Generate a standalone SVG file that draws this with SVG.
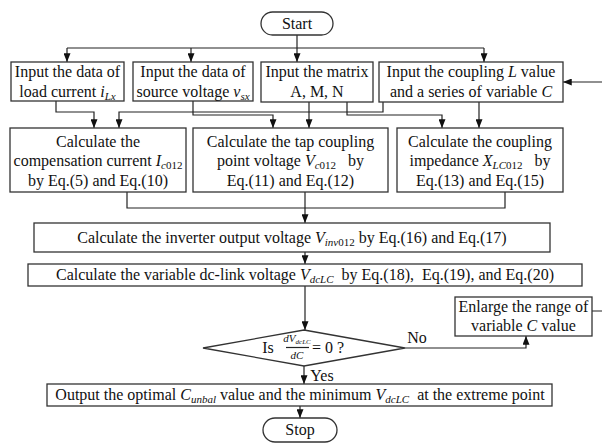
<svg xmlns="http://www.w3.org/2000/svg" width="602" height="445" viewBox="0 0 602 445">
<defs>
<marker id="ah" viewBox="0 0 10 8" refX="10" refY="4" markerWidth="9" markerHeight="7" markerUnits="userSpaceOnUse" orient="auto">
<path d="M0,0 L10,4 L0,8 z" fill="#111"/>
</marker>
</defs>
<style>
.box{fill:#fff;stroke:#333;stroke-width:1.3}
.t{font-family:"Liberation Serif","Times New Roman",serif;font-size:16px;fill:#111;text-anchor:middle}
.i{font-style:italic}
.s{font-size:11px}
.c{fill:none;stroke:#222;stroke-width:1.2}
.a{marker-end:url(#ah)}
</style>
<rect width="602" height="445" fill="#fff"/>
<g id="connectors">
<path class="c a" d="M297,35 V62"/>
<path class="c" d="M67,48 H484"/>
<path class="c a" d="M67,48 V62"/>
<path class="c a" d="M191,48 V62"/>
<path class="c a" d="M484,48 V62"/>
<path class="c a" d="M592,311 H612 V82 H563"/>
<path class="c a" d="M56,101 V112 H94 V128"/>
<path class="c a" d="M383,102 V112 H119 V128"/>
<path class="c a" d="M193,101 V115 H273 V128"/>
<path class="c a" d="M309,102 V128"/>
<path class="c a" d="M347,102 V115 H442 V128"/>
<path class="c a" d="M479,102 V128"/>
<path class="c" d="M127,192 V208 H505 V192"/>
<path class="c a" d="M305,192 V223"/>
<path class="c a" d="M305,252 V264"/>
<path class="c a" d="M305,286 V330"/>
<path class="c a" d="M405,348 H526 V336"/>
<path class="c a" d="M304,366 V384"/>
<path class="c a" d="M300,406 V418"/>
</g>
<g id="start"><rect class="box" x="261" y="12" width="72" height="23" rx="11.5"/><text class="t" x="297" y="29">Start</text></g>
<g id="in-load"><rect class="box" x="11" y="62" width="113" height="39"/><text class="t" x="67.5" y="77">Input the data of</text><text class="t" x="67.5" y="96.5">load current <tspan class="i">i</tspan><tspan class="i s" dy="3">Lx</tspan></text></g>
<g id="in-source"><rect class="box" x="133" y="62" width="120" height="39"/><text class="t" x="193" y="77">Input the data of</text><text class="t" x="193" y="96.5">source voltage <tspan class="i">v</tspan><tspan class="i s" dy="3">sx</tspan></text></g>
<g id="in-matrix"><rect class="box" x="261" y="62" width="112" height="40"/><text class="t" x="317" y="77">Input the matrix</text><text class="t" x="317" y="96.5">A, M, N</text></g>
<g id="in-coupling"><rect class="box" x="379" y="62" width="184" height="40"/><text class="t" x="471" y="77">Input the coupling <tspan class="i">L</tspan> value</text><text class="t" x="471" y="96.5">and a series of variable <tspan class="i">C</tspan></text></g>
<g id="calc-comp"><rect class="box" x="10" y="128" width="176" height="64"/><text class="t" x="98" y="146.5">Calculate the</text><text class="t" x="98" y="166">compensation current <tspan class="i">I</tspan><tspan class="s" dy="3"><tspan class="i">c</tspan>012</tspan></text><text class="t" x="98" y="185.5">by Eq.(5) and Eq.(10)</text></g>
<g id="calc-tap"><rect class="box" x="193" y="128" width="195" height="64"/><text class="t" x="290.5" y="146.5">Calculate the tap coupling</text><text class="t" x="290.5" y="166" xml:space="preserve">point voltage <tspan class="i">V</tspan><tspan class="s" dy="3"><tspan class="i">c</tspan>012</tspan><tspan dy="-3">   by</tspan></text><text class="t" x="290.5" y="185.5">Eq.(11) and Eq.(12)</text></g>
<g id="calc-imp"><rect class="box" x="397" y="128" width="166" height="64"/><text class="t" x="480" y="146.5">Calculate the coupling</text><text class="t" x="480" y="166" xml:space="preserve">impedance <tspan class="i">X</tspan><tspan class="s" dy="3"><tspan class="i">LC</tspan>012</tspan><tspan dy="-3">   by</tspan></text><text class="t" x="480" y="185.5">Eq.(13) and Eq.(15)</text></g>
<g id="calc-inv"><rect class="box" x="34" y="223" width="516" height="29"/><text class="t" x="292" y="243">Calculate the inverter output voltage <tspan class="i">V</tspan><tspan class="i s" dy="3">inv</tspan><tspan class="s">012</tspan><tspan dy="-3"> by Eq.(16) and Eq.(17)</tspan></text></g>
<g id="calc-dc"><rect class="box" x="28" y="264" width="554" height="22"/><text class="t" x="305" y="280" xml:space="preserve">Calculate the variable dc-link voltage <tspan class="i">V</tspan><tspan class="i s" dy="3">dcLC</tspan><tspan dy="-3">  by Eq.(18),  Eq.(19), and Eq.(20)</tspan></text></g>
<g id="enlarge"><rect class="box" x="455" y="297" width="137" height="39"/><text class="t" x="523.5" y="312">Enlarge the range of</text><text class="t" x="523.5" y="331">variable <tspan class="i">C</tspan> value</text></g>
<g id="decision"><path class="box" d="M304,330 L405,348 L304,366 L203,348 Z"/>
<text class="t" x="268" y="353">Is</text>
<text class="t i s" x="297" y="342">dV<tspan font-size="7" dy="2">dcLC</tspan></text>
<path class="c" d="M286,347.5 H309"/>
<text class="t i s" x="297" y="359">dC</text>
<text class="t" x="328" y="353">= 0 ?</text>
<text class="t" x="417" y="343">No</text>
<text class="t" x="322" y="381">Yes</text>
</g>
<g id="output"><rect class="box" x="47" y="384" width="505" height="22"/><text class="t" x="300" y="400" xml:space="preserve">Output the optimal <tspan class="i">C</tspan><tspan class="i s" dy="3">unbal</tspan><tspan dy="-3"> value and the minimum </tspan><tspan class="i">V</tspan><tspan class="i s" dy="3">dcLC</tspan><tspan dy="-3">  at the extreme point</tspan></text></g>
<g id="stop"><rect class="box" x="263" y="418" width="74" height="24" rx="12"/><text class="t" x="300" y="435">Stop</text></g>
</svg>
